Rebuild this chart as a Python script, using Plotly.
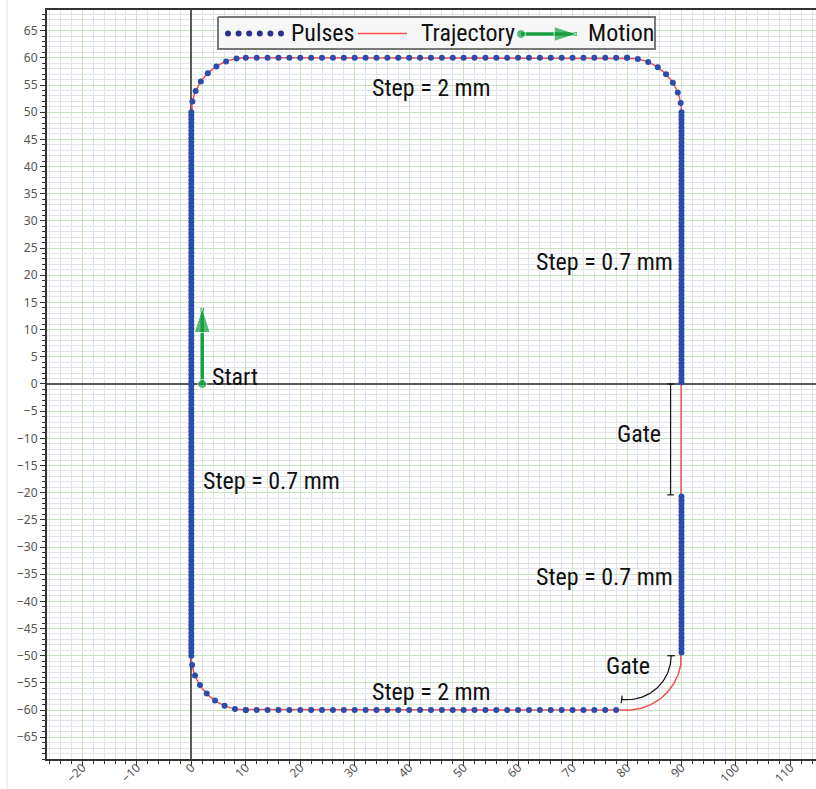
import numpy as np
import plotly.graph_objects as go

# Scan path: rounded rectangle (mm)
x_left, x_right = 0.0, 90.0
y_bottom, y_top = -60.0, 60.0
corner_radius = 10.0

# Pulse spacing along the path (mm)
step_sides = 0.7
step_top_bottom = 2.0

# Gate on the right side (no pulses between these y values)
gate_side_y = [0.0, -20.0]

# Motion indicator (start point and arrow tip)
motion_x = [2.0, 2.0]
motion_y = [0.0, 14.0]

# Axes
x_ticks = list(range(-20, 111, 10))
y_ticks = list(range(-65, 66, 5))
x_range = [-26.5, 114.7]
y_range = [-69.0, 68.8]

# Text labels
step_labels = ["Step = 2 mm", "Step = 0.7 mm", "Step = 0.7 mm", "Step = 0.7 mm", "Step = 2 mm"]
step_label_x = [44.1, 75.9, 14.8, 75.9, 44.1]
step_label_y = [54.4, 22.5, -17.9, -35.6, -56.6]
gate_label_x = [82.2, 80.2]
gate_label_y = [-9.2, -51.8]

# Colours
c_pulse = "#2a4cad"
c_pulse_legend = "#2b3190"
c_traj = "#f25050"
c_motion = "#17a043"
grid_major = "#c9e3c1"
grid_minor = "#e2e4ea"

TEXT_FONT = "Liberation Sans Narrow, Roboto Condensed, DejaVu Sans Condensed, sans-serif"
TICK_FONT = dict(family="Noto Sans, Open Sans, sans-serif", size=12, color="#555")

R = corner_radius


def line(p0, p1):
    p0, p1 = np.asarray(p0, float), np.asarray(p1, float)
    L = float(np.linalg.norm(p1 - p0))
    return (lambda s: p0 + np.outer(s / L, p1 - p0)), L


def arc(c, a0, a1):
    c = np.asarray(c, float)
    L = R * abs(a1 - a0)
    sg = np.sign(a1 - a0)
    return (lambda s: c + R * np.column_stack([np.cos(a0 + sg * s / R),
                                                np.sin(a0 + sg * s / R)])), L


# Clockwise path: (geometry, pulse step or None for a gate, skip first pulse)
path = [
    (line((x_left, y_bottom + R), (x_left, y_top - R)), step_sides, False),
    (arc((x_left + R, y_top - R), np.pi, np.pi / 2), step_top_bottom, False),
    (line((x_left + R, y_top), (x_right - R, y_top)), step_top_bottom, False),
    (arc((x_right - R, y_top - R), np.pi / 2, 0.0), step_top_bottom, False),
    (line((x_right, y_top - R), (x_right, gate_side_y[0])), step_sides, False),
    (line((x_right, gate_side_y[0]), (x_right, gate_side_y[1])), None, False),
    (line((x_right, gate_side_y[1]), (x_right, y_bottom + R)), step_sides, True),
    (arc((x_right - R, y_bottom + R), 0.0, -np.pi / 2), None, False),
    (line((x_right - R, y_bottom), (x_left + R, y_bottom)), step_top_bottom, True),
    (arc((x_left + R, y_bottom + R), -np.pi / 2, -np.pi), step_top_bottom, False),
]

traj = []
pulses = []
for (f, L), step, skip in path:
    traj.append(f(np.linspace(0, L, 60)))
    if step is not None:
        n = int(np.floor(L / step + 1e-9))
        k = np.arange(1 if skip else 0, n + 1)
        pulses.append(f(k * step))
traj = np.vstack(traj + [traj[0][:1]])
pulses = np.vstack(pulses)

fig = go.Figure()

fig.add_trace(go.Scatter(x=traj[:, 0], y=traj[:, 1], mode="lines",
                         line=dict(color=c_traj, width=1.5),
                         name="Trajectory", showlegend=False, hoverinfo="skip"))
fig.add_trace(go.Scatter(x=pulses[:, 0], y=pulses[:, 1], mode="markers",
                         marker=dict(color=c_pulse, size=6),
                         name="Pulses", showlegend=False))

# Gate brackets
bx = x_right - 2.0
gy0, gy1 = gate_side_y[0], gate_side_y[1] - 0.4
cap = 0.6
fig.add_trace(go.Scatter(
    x=[bx - cap, bx + cap, None, bx, bx, None, bx - cap, bx + cap],
    y=[gy0, gy0, None, gy0, gy1, None, gy1, gy1],
    mode="lines", line=dict(color="#111", width=1.2),
    showlegend=False, hoverinfo="skip"))

cc = np.array([x_right - R, y_bottom + R])
rb = R - 1.9
ang = np.linspace(0.0, np.deg2rad(-97), 50)
arc_pts = cc + rb * np.column_stack([np.cos(ang), np.sin(ang)])
bxs, bys = list(arc_pts[:, 0]), list(arc_pts[:, 1])
for a in (ang[0], ang[-1]):
    u = np.array([np.cos(a), np.sin(a)])
    p, q = cc + (rb - 0.7) * u, cc + (rb + 0.7) * u
    bxs += [None, p[0], q[0]]
    bys += [None, p[1], q[1]]
fig.add_trace(go.Scatter(x=bxs, y=bys, mode="lines",
                         line=dict(color="#111", width=1.2),
                         showlegend=False, hoverinfo="skip"))

# Motion arrow
fig.add_trace(go.Scatter(x=motion_x, y=motion_y, mode="lines+markers",
                         line=dict(color=c_motion, width=3.5, backoff=10),
                         marker=dict(color=c_motion, symbol=["circle", "arrow"],
                                     size=[9, 26], angle=[0, 0]),
                         name="Motion", showlegend=False, hoverinfo="skip"))

label_font = dict(family=TEXT_FONT, size=24, color="#111")
annotations = []
for t, x, y in zip(step_labels, step_label_x, step_label_y):
    annotations.append(dict(x=x, y=y, text=t, showarrow=False, xanchor="center",
                            yanchor="middle", font=label_font))
for x, y in zip(gate_label_x, gate_label_y):
    annotations.append(dict(x=x, y=y, text="Gate", showarrow=False, xanchor="center",
                            yanchor="middle", font=label_font))
annotations.append(dict(x=motion_x[0] + 1.5, y=motion_y[0] + 1.3, text="Start", showarrow=False,
                        xanchor="left", yanchor="middle", font=label_font))

# Legend panel drawn on a pixel-based overlay axis
lg = dict(xaxis="x2", yaxis="y2", showlegend=False, hoverinfo="skip")
fig.add_trace(go.Scatter(x=[218, 655, 655, 218, 218], y=[17, 17, 49, 49, 17],
                         mode="lines", fill="toself", fillcolor="#f7f7f7",
                         line=dict(color="#777", width=2), **lg))
fig.add_trace(go.Scatter(x=[228 + 10.6 * i for i in range(6)], y=[33.5] * 6,
                         mode="markers", marker=dict(color=c_pulse_legend, size=6), **lg))
fig.add_trace(go.Scatter(x=[358, 407], y=[33.5, 33.5], mode="lines",
                         line=dict(color="#ff4d4d", width=1.5), **lg))
fig.add_trace(go.Scatter(x=[521, 577], y=[34, 34], mode="lines+markers",
                         line=dict(color=c_motion, width=3.5, backoff=10),
                         marker=dict(color=c_motion, symbol=["circle", "arrow"],
                                     size=[9, 24], angle=[0, 90]), **lg))
legend_font = dict(family=TEXT_FONT, size=24, color="#111")
for t, x in [("Pulses", 289), ("Trajectory", 419), ("Motion", 586)]:
    annotations.append(dict(x=x, y=33, xref="x2", yref="y2", text=t, showarrow=False,
                            xanchor="left", yanchor="middle", font=legend_font))

axis_common = dict(
    ticks="outside", ticklen=5, tickwidth=1, tickcolor="#333",
    showline=True, linecolor="#333", linewidth=2,
    showgrid=True, gridcolor=grid_major, gridwidth=1,
    zeroline=True, zerolinecolor="#5a5a5a", zerolinewidth=2,
    fixedrange=True, automargin=False,
)

fig.update_layout(
    width=816, height=789, autosize=False,
    margin=dict(l=47, r=0, t=10, b=30),
    paper_bgcolor="white", plot_bgcolor="white",
    showlegend=False,
    xaxis=dict(range=x_range, tickmode="array", tickvals=x_ticks, tickangle=-45,
               mirror=True, ticklabelstandoff=-10,
               tickfont=TICK_FONT,
               minor=dict(dtick=2, tick0=0, showgrid=True, gridcolor=grid_minor,
                          ticks="outside", ticklen=3, tickcolor="#333"),
               **axis_common),
    yaxis=dict(range=y_range, tickmode="array", tickvals=y_ticks,
               tickfont=TICK_FONT,
               minor=dict(dtick=1, tick0=0, showgrid=True, gridcolor=grid_minor,
                          ticks="outside", ticklen=3, tickcolor="#333"),
               **axis_common),
    xaxis2=dict(overlaying="x", range=[47, 816], visible=False, fixedrange=True),
    yaxis2=dict(overlaying="y", range=[759, 10], visible=False, fixedrange=True),
    shapes=[dict(type="line", xref="paper", yref="paper",
                 x0=-0.052, x1=-0.052, y0=-0.04, y1=1.013,
                 line=dict(color="#e4e4e4", width=1))],
    annotations=annotations,
)

fig.write_html("out.html")
